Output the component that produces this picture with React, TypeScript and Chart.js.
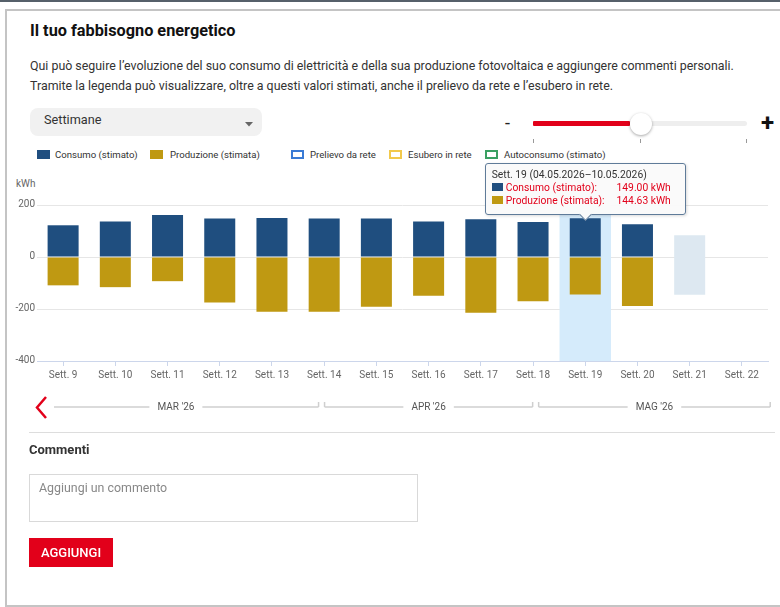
import React, { useEffect, useRef } from "react";
import { Chart, registerables, Tooltip } from "chart.js";

Chart.register(...registerables);

// ---------- data ----------
const weekLabels = [
  "Sett. 9", "Sett. 10", "Sett. 11", "Sett. 12", "Sett. 13", "Sett. 14", "Sett. 15",
  "Sett. 16", "Sett. 17", "Sett. 18", "Sett. 19", "Sett. 20", "Sett. 21", "Sett. 22",
];
const weekRanges = [
  "23.02.2026–01.03.2026", "02.03.2026–08.03.2026", "09.03.2026–15.03.2026",
  "16.03.2026–22.03.2026", "23.03.2026–29.03.2026", "30.03.2026–05.04.2026",
  "06.04.2026–12.04.2026", "13.04.2026–19.04.2026", "20.04.2026–26.04.2026",
  "27.04.2026–03.05.2026", "04.05.2026–10.05.2026", "11.05.2026–17.05.2026",
  "18.05.2026–24.05.2026", "25.05.2026–31.05.2026",
];
const consumoStimato = [122, 137, 162, 148, 150, 148, 148, 137, 145, 135, 149, 126, null, null];
const produzioneStimata = [109, 116, 93, 175, 211, 211, 191, 149, 214, 170, 144.63, 188, null, null];
const forecastIndex = 12;
const forecastRange = [-145, 84];
const selectedIndex = 10;
const yMin = -400;
const yMax = 200;
const yStep = 200;
const monthBands = [
  { label: "MAR '26", from: -0.63, to: 4.95, startTick: false },
  { label: "APR '26", from: 4.95, to: 9.05, startTick: true },
  { label: "MAG '26", from: 9.05, to: 13.6, startTick: true },
];
const legendItems = [
  { label: "Consumo (stimato)", color: "#1f4e7f", filled: true, left: 37, textLeft: 55 },
  { label: "Produzione (stimata)", color: "#bf9912", filled: true, left: 150, textLeft: 170 },
  { label: "Prelievo da rete", color: "#3a7bd5", filled: false, left: 291, textLeft: 310 },
  { label: "Esubero in rete", color: "#f2c94c", filled: false, left: 389, textLeft: 408 },
  { label: "Autoconsumo (stimato)", color: "#3aa062", filled: false, left: 485, textLeft: 504 },
];

const FONT = "Roboto, 'Noto Sans', sans-serif";
const RED = "#e2001a";

(Tooltip as any).positioners.barTop = function (elements: any[]) {
  if (!elements.length) return false;
  const x = elements[0].element.x;
  const y = Math.min(...elements.map((e: any) => e.element.y));
  return { x, y };
};

const monthBandPlugin = {
  id: "monthBand",
  afterDraw(chart: any) {
    const ctx = chart.ctx;
    const xs = chart.scales.x;
    const p0 = xs.getPixelForValue(0);
    const catW = xs.getPixelForValue(1) - p0;
    const px = (u: number) => p0 + u * catW;
    const y = 217;
    const clipLeft = 54;
    ctx.save();
    ctx.font = `10px ${FONT}`;
    ctx.textAlign = "center";
    ctx.textBaseline = "middle";
    ctx.strokeStyle = "#cfcfcf";
    ctx.lineWidth = 1.5;
    monthBands.forEach((b) => {
      const x0 = px(b.from) + 3;
      const x1 = px(b.to) - 3;
      const cx = (x0 + x1) / 2;
      const w = ctx.measureText(b.label).width;
      ctx.fillStyle = "#555";
      ctx.fillText(b.label, cx, y);
      ctx.beginPath();
      ctx.moveTo(Math.max(x0, clipLeft), y);
      ctx.lineTo(cx - w / 2 - 8, y);
      ctx.moveTo(cx + w / 2 + 8, y);
      ctx.lineTo(x1, y);
      if (b.startTick) {
        ctx.moveTo(x0, y);
        ctx.lineTo(x0, y - 5);
      }
      ctx.moveTo(x1, y);
      ctx.lineTo(x1, y - 5);
      ctx.stroke();
    });
    ctx.restore();
  },
};

function ChartBlock() {
  const canvasRef = useRef<HTMLCanvasElement | null>(null);
  const tipRef = useRef<HTMLDivElement | null>(null);

  useEffect(() => {
    const canvas = canvasRef.current!;
    const highlight = weekLabels.map((_, i) => (i === selectedIndex ? [yMin, yMax] : null));
    const forecast = weekLabels.map((_, i) => (i === forecastIndex ? forecastRange : null));

    const external = (context: any) => {
      const { tooltip } = context;
      const el = tipRef.current;
      if (!el) return;
      if (tooltip.opacity === 0 || !tooltip.dataPoints || !tooltip.dataPoints.length) {
        el.style.display = "none";
        return;
      }
      const idx = tooltip.dataPoints[0].dataIndex;
      const rows = tooltip.dataPoints
        .map((dp: any) => {
          const color = dp.dataset.backgroundColor;
          const val = Math.abs(dp.raw as number).toFixed(2) + " kWh";
          return `<tr>
            <td style="padding:0;white-space:nowrap;color:${RED}"><span style="display:inline-block;width:11px;height:8px;background:${color};margin-right:3px;vertical-align:-0px"></span>${dp.dataset.label}:</td>
            <td style="padding:0 0 0 10px;text-align:right;white-space:nowrap;color:${RED}">${val}</td>
          </tr>`;
        })
        .join("");
      el.innerHTML = `<div style="color:#333;white-space:nowrap">${weekLabels[idx]} (${weekRanges[idx]})</div>
        <table style="border-collapse:collapse;width:100%;font-size:10.3px;line-height:13px;font-family:${FONT}">${rows}</table>
        <div style="position:absolute;left:50%;bottom:-5px;width:8px;height:8px;margin-left:-4px;background:#fafafa;border-right:1px solid #5f7b99;border-bottom:1px solid #5f7b99;transform:rotate(45deg)"></div>`;
      el.style.display = "block";
      const w = el.offsetWidth;
      const h = el.offsetHeight;
      el.style.left = canvas.offsetLeft + tooltip.caretX - w / 2 + "px";
      el.style.top = canvas.offsetTop + tooltip.caretY - h - 3 + "px";
    };

    const chart = new Chart(canvas, {
      type: "bar",
      data: {
        labels: weekLabels,
        datasets: [
          {
            label: "Consumo (stimato)",
            data: consumoStimato,
            backgroundColor: "#1f4e7f",
            grouped: false,
            categoryPercentage: 1,
            barPercentage: 0.594,
            borderWidth: 0,
          },
          {
            label: "Produzione (stimata)",
            data: produzioneStimata.map((v) => (v === null ? null : -v)),
            backgroundColor: "#bf9912",
            grouped: false,
            categoryPercentage: 1,
            barPercentage: 0.594,
            borderWidth: 0,
          },
          {
            label: "Previsione",
            data: forecast as any,
            backgroundColor: "#dde8f1",
            grouped: false,
            categoryPercentage: 1,
            barPercentage: 0.594,
            borderWidth: 0,
          },
          {
            label: "Selezione",
            data: highlight as any,
            backgroundColor: "#d5ebfb",
            grouped: false,
            categoryPercentage: 1,
            barPercentage: 0.985,
            borderWidth: 0,
          },
        ],
      },
      options: {
        animation: false,
        responsive: false,
        events: [],
        layout: { padding: { top: 15, right: 12, left: 0, bottom: 0 } },
        plugins: {
          legend: { display: false },
          tooltip: {
            enabled: false,
            mode: "index",
            position: "barTop" as any,
            external,
          },
        },
        scales: {
          x: {
            grid: {
              drawOnChartArea: false,
              drawTicks: true,
              tickLength: 5,
              color: "#ccd6eb",
              offset: false,
            },
            border: { color: "#ccd6eb" },
            ticks: {
              color: "#666",
              font: { size: 10, family: FONT },
              padding: 3,
              maxRotation: 0,
              autoSkip: false,
            },
            afterFit: (s: any) => {
              s.height = 69;
            },
          },
          y: {
            min: yMin,
            max: yMax,
            ticks: {
              stepSize: yStep,
              color: "#666",
              font: { size: 10, family: FONT },
              padding: 2,
              labelOffset: -1,
            },
            grid: { color: "#e6e6e6", drawTicks: false },
            border: { display: false },
            afterFit: (s: any) => {
              s.width = 37;
            },
          },
        },
      },
      plugins: [monthBandPlugin],
    });

    chart.tooltip!.setActiveElements(
      [
        { datasetIndex: 0, index: selectedIndex },
        { datasetIndex: 1, index: selectedIndex },
      ],
      { x: 0, y: 0 }
    );

    return () => {
      chart.destroy();
    };
  }, []);

  return (
    <>
      <canvas
        ref={canvasRef}
        width={780}
        height={240}
        style={{ position: "absolute", left: 0, top: 190, width: 780, height: 240 }}
      />
      <div
        ref={tipRef}
        style={{
          position: "absolute",
          display: "none",
          width: 201,
          height: 52,
          boxSizing: "border-box",
          padding: "4px 14px 0 6px",
          background: "rgba(250,250,250,0.96)",
          border: "1px solid #5f7b99",
          borderRadius: 3,
          boxShadow: "1px 1px 3px rgba(0,0,0,0.15)",
          fontFamily: FONT,
          fontSize: 10.3,
          lineHeight: "13px",
        }}
      />
    </>
  );
}

export default function App() {
  useEffect(() => {
    document.body.style.margin = "0";
  }, []);
  const abs = (s: React.CSSProperties): React.CSSProperties => ({ position: "absolute", ...s });
  return (
    <div style={{ position: "relative", width: 780, height: 607, overflow: "hidden", fontFamily: FONT, background: "#fff" }}>
      <div style={abs({ left: 0, top: 0, width: 780, height: 2, background: "#56606a" })} />
      <div
        style={abs({
          left: 5,
          top: 9,
          width: 800,
          height: 594,
          border: "2px solid #c4c4c4",
          borderRight: "none",
        })}
      />
      <div style={abs({ left: 30, top: 21, fontSize: 16.3, lineHeight: "20px", fontWeight: 700, color: "#111", whiteSpace: "nowrap" })}>
        Il tuo fabbisogno energetico
      </div>
      <div style={abs({ left: 30, top: 56, fontSize: 12.4, lineHeight: "20px", color: "#333", whiteSpace: "nowrap" })}>
        Qui può seguire l’evoluzione del suo consumo di elettricità e della sua produzione fotovoltaica e aggiungere commenti personali.
        <br />
        Tramite la legenda può visualizzare, oltre a questi valori stimati, anche il prelievo da rete e l’esubero in rete.
      </div>

      {/* dropdown */}
      <div style={abs({ left: 30, top: 108, width: 232, height: 28, background: "#f1f1f1", borderRadius: 8 })} />
      <div style={abs({ left: 44, top: 110, fontSize: 12.7, lineHeight: "20px", color: "#333" })}>Settimane</div>
      <svg style={abs({ left: 245, top: 122, width: 8, height: 5 })} viewBox="0 0 8 5">
        <polygon points="0,0 8,0 4,4.5" fill="#666" />
      </svg>

      {/* slider */}
      <div style={abs({ left: 505, top: 111, fontSize: 18, lineHeight: "24px", color: "#222" })}>-</div>
      <div style={abs({ left: 533, top: 121, width: 214, height: 5, background: "#eeeeee", borderRadius: 3 })} />
      <div style={abs({ left: 533, top: 121, width: 97, height: 5, background: RED, borderRadius: 1 })} />
      <div
        style={abs({
          left: 630,
          top: 113,
          width: 22,
          height: 22,
          borderRadius: 11,
          background: "#fff",
          boxShadow: "0 1px 3px rgba(0,0,0,0.35)",
        })}
      />
      {[533, 640, 746].map((x) => (
        <div key={x} style={abs({ left: x, top: 139, width: 1, height: 4, background: "#999" })} />
      ))}
      <div style={abs({ left: 761, top: 109, fontSize: 24, lineHeight: "28px", fontWeight: 700, color: "#111" })}>+</div>

      {/* legend */}
      {legendItems.map((it) => (
        <React.Fragment key={it.label}>
          <div
            style={abs({
              left: it.left,
              top: 150,
              width: 13,
              height: 9,
              boxSizing: "border-box",
              background: it.filled ? it.color : "#fff",
              border: it.filled ? "none" : `2px solid ${it.color}`,
            })}
          />
          <div style={abs({ left: it.textLeft, top: 147, fontSize: 9.6, lineHeight: "16px", color: "#333", whiteSpace: "nowrap" })}>
            {it.label}
          </div>
        </React.Fragment>
      ))}

      <div style={abs({ left: 16, top: 178, fontSize: 10, lineHeight: "12px", color: "#666" })}>kWh</div>

      <ChartBlock />

      {/* chevron */}
      <svg style={abs({ left: 33, top: 394, width: 16, height: 28 })} viewBox="0 0 16 28">
        <polyline points="13,3 4,13.5 13,24" fill="none" stroke={RED} strokeWidth={2.5} />
      </svg>

      <div style={abs({ left: 29, top: 432, width: 746, height: 1, background: "#dddddd" })} />
      <div style={abs({ left: 29, top: 442, fontSize: 13, lineHeight: "16px", fontWeight: 700, color: "#333" })}>Commenti</div>
      <div
        style={abs({
          left: 29,
          top: 474,
          width: 389,
          height: 48,
          boxSizing: "border-box",
          border: "1px solid #d9d9d9",
        })}
      />
      <div style={abs({ left: 39, top: 479, fontSize: 12.4, lineHeight: "18px", color: "#888" })}>Aggiungi un commento</div>
      <div
        style={abs({
          left: 29,
          top: 538,
          width: 84,
          height: 29,
          background: RED,
          color: "#fff",
          fontSize: 13,
          fontWeight: 500,
          lineHeight: "29px",
          textAlign: "center",
        })}
      >
        AGGIUNGI
      </div>
    </div>
  );
}
